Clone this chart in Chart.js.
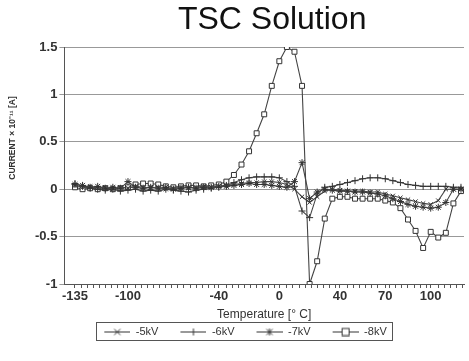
<!DOCTYPE html>
<html>
<head>
<meta charset="utf-8">
<script src="https://cdn.jsdelivr.net/npm/chart.js@4.4.1/dist/chart.umd.min.js"></script>
<style>
  html, body { margin: 0; padding: 0; background: #fff; }
  #wrap { width: 469px; height: 361px; position: relative; }
</style>
</head>
<body>
<div id="wrap"><canvas id="tscChart" width="469" height="361"></canvas></div>
<script>
// temperature steps [deg C]
const temps = [
  -135, -130, -125, -120, -115, -110, -105, -100, -95, -90, -85, -80, -75, -70, -65, -60, -55, -50, -45, -40, -35,
  -30, -25, -20, -15, -10, -5, 0, 5, 10, 15,
  20, 25, 30, 35, 40, 45, 50, 55, 60, 65, 70, 75, 80, 85, 90, 95, 100, 105, 110, 115, 120,
];

// current x 1e-11 A
const kv5 = [
  0.04, 0.02, 0.03, 0.01, 0.02, 0.0, 0.02, 0.01, 0.03, 0.02, 0.01, 0.02, 0.0, 0.01, 0.02, 0.01, 0.02, 0.03, 0.02, 0.03, 0.04,
  0.05, 0.06, 0.07, 0.07, 0.08, 0.08, 0.07, 0.05, 0.0, -0.08,
  -0.14, -0.08, -0.02, 0.0, -0.01, -0.02, -0.02, -0.02, -0.03, -0.03, -0.05, -0.07, -0.09, -0.11, -0.13, -0.15, -0.16, -0.12, 0.0, 0.0, 0.0,
];
const kv6 = [
  0.06, 0.03, 0.01, 0.0, -0.01, 0.0, -0.02, -0.01, 0.0, -0.02, -0.01, -0.02, 0.0, -0.01, -0.02, -0.03, -0.01, 0.0, 0.01, 0.02, 0.04,
  0.07, 0.1, 0.12, 0.13, 0.13, 0.13, 0.12, 0.08, 0.03, -0.23,
  -0.3, -0.05, 0.02, 0.03, 0.05, 0.07, 0.09, 0.11, 0.12, 0.12, 0.11, 0.09, 0.07, 0.05, 0.04, 0.03, 0.03, 0.03, 0.03, 0.02, 0.02,
];
const kv7 = [
  0.05, 0.04, 0.02, 0.03, 0.01, 0.02, 0.01, 0.08, 0.02, 0.01, 0.02, 0.01, 0.02, 0.0, 0.01, 0.02, 0.01, 0.02, 0.02, 0.03, 0.03,
  0.04, 0.05, 0.06, 0.05, 0.05, 0.04, 0.03, 0.02, 0.08, 0.28,
  -0.1, -0.03, 0.0, -0.01, -0.02, -0.02, -0.03, -0.03, -0.04, -0.05, -0.07, -0.1, -0.13, -0.16, -0.18, -0.19, -0.2, -0.19, -0.14, 0.0, 0.0,
];
const kv8 = [
  0.02, 0.0, 0.01, 0.0, 0.01, 0.0, 0.01, 0.02, 0.05, 0.06, 0.06, 0.05, 0.03, 0.02, 0.03, 0.04, 0.04, 0.03, 0.04, 0.05, 0.08,
  0.15, 0.26, 0.4, 0.59, 0.79, 1.09, 1.35, 1.5, 1.45, 1.09,
  -1.0, -0.76, -0.31, -0.1, -0.08, -0.08, -0.1, -0.1, -0.1, -0.1, -0.12, -0.14, -0.2, -0.32, -0.44, -0.62, -0.45, -0.51, -0.46, -0.15, -0.02,
];

const seriesNames = ['-5kV', '-6kV', '-7kV', '-8kV'];
const xTickLabels = [-135, -100, -40, 0, 40, 70, 100];

const ink = '#333';
const font = "'Liberation Sans', Arial, sans-serif";
const iconGap = 18; // blank space left of each legend icon, keeps items apart

function legendIcon(style) {
  const c = document.createElement('canvas');
  c.width = 26 + iconGap;
  c.height = 10;
  const g = c.getContext('2d');
  g.strokeStyle = ink;
  g.lineWidth = 1;
  g.beginPath();
  g.moveTo(iconGap, 5.5);
  g.lineTo(iconGap + 26, 5.5);
  g.stroke();
  const x = iconGap + 13, y = 5.5, r = 3;
  g.beginPath();
  if (style === 'crossRot' || style === 'star') {
    g.moveTo(x - r, y - r); g.lineTo(x + r, y + r);
    g.moveTo(x - r, y + r); g.lineTo(x + r, y - r);
  }
  if (style === 'cross' || style === 'star') {
    g.moveTo(x, y - r - 0.5); g.lineTo(x, y + r + 0.5);
    g.moveTo(x - r, y); g.lineTo(x + r, y);
  }
  g.stroke();
  if (style === 'rect') {
    g.fillStyle = '#fff';
    g.fillRect(x - 3.5, y - 3.5, 7, 7);
    g.strokeRect(x - 3.5, y - 3.5, 7, 7);
  }
  return c;
}

function makeSeries(label, values, style, radius) {
  return {
    label,
    data: values.map((v, i) => ({ x: temps[i], y: v })),
    borderColor: '#444',
    borderWidth: 1.1,
    pointStyle: style,
    pointRadius: radius,
    pointBorderColor: ink,
    pointBorderWidth: 1,
    pointBackgroundColor: '#fff',
    tension: 0,
    legendIcon: legendIcon(style),
  };
}

const chartTexts = {
  id: 'chartTexts',
  afterDraw(chart) {
    const { ctx, chartArea } = chart;
    ctx.save();
    ctx.font = `32px ${font}`;
    ctx.fillStyle = '#111';
    ctx.textAlign = 'center';
    ctx.textBaseline = 'alphabetic';
    ctx.fillText('TSC Solution', (chartArea.left + chartArea.right) / 2 + 8, 29);

    ctx.translate(13, 138);
    ctx.rotate(-Math.PI / 2);
    ctx.font = `bold 8.5px ${font}`;
    ctx.fillStyle = ink;
    ctx.textBaseline = 'middle';
    ctx.fillText('CURRENT × 10⁻¹¹ [A]', 0, 0);
    ctx.restore();
  },
};

const legendFrame = {
  id: 'legendFrame',
  afterDraw(chart) {
    const boxes = chart.legend && chart.legend.legendHitBoxes;
    if (!boxes || !boxes.length) return;
    const left = Math.min(...boxes.map(b => b.left)) + iconGap - 8;
    const right = Math.max(...boxes.map(b => b.left + b.width)) + 6;
    const top = boxes[0].top - 4;
    const bottom = boxes[0].top + boxes[0].height + 3;
    const ctx = chart.ctx;
    ctx.save();
    ctx.strokeStyle = '#555';
    ctx.lineWidth = 1;
    ctx.strokeRect(Math.round(left) + 0.5, Math.round(top) + 0.5, Math.round(right - left), Math.round(bottom - top));
    ctx.restore();
  },
};

new Chart(document.getElementById('tscChart'), {
  type: 'line',
  data: {
    datasets: [
      makeSeries(seriesNames[0], kv5, 'crossRot', 3),
      makeSeries(seriesNames[1], kv6, 'cross', 3.5),
      makeSeries(seriesNames[2], kv7, 'star', 3.5),
      makeSeries(seriesNames[3], kv8, 'rect', 3.5),
    ],
  },
  options: {
    responsive: false,
    animation: false,
    layout: { padding: { top: 47, left: 4, right: 0, bottom: 14 } },
    plugins: {
      title: { display: false },
      tooltip: { enabled: false },
      legend: {
        position: 'bottom',
        labels: {
          color: ink,
          font: { family: font, size: 11 },
          usePointStyle: true,
          pointStyleWidth: 26 + iconGap,
          padding: 4,
          generateLabels: (chart) => chart.data.datasets.map((ds, i) => ({
            text: ds.label,
            pointStyle: ds.legendIcon,
            fillStyle: '#fff',
            strokeStyle: ink,
            lineWidth: 0,
            hidden: false,
            datasetIndex: i,
            fontColor: ink,
          })),
        },
      },
    },
    scales: {
      x: {
        type: 'linear',
        min: -142,
        max: 122,
        afterBuildTicks: (axis) => {
          const vals = new Set(xTickLabels);
          for (let v = -135; v <= 122; v += 4) {
            if (xTickLabels.every(t => Math.abs(t - v) > 1.5)) vals.add(v);
          }
          axis.ticks = [...vals].sort((a, b) => a - b).map(v => ({ value: v }));
        },
        ticks: {
          autoSkip: false,
          maxRotation: 0,
          color: ink,
          padding: 1,
          font: { family: font, size: 13, weight: 'bold' },
          callback: (v) => (xTickLabels.includes(v) ? String(v) : ''),
        },
        grid: { drawOnChartArea: false, tickLength: 4, color: '#555' },
        border: { color: '#555', width: 1 },
        title: {
          display: true,
          text: 'Temperature [° C]',
          color: ink,
          font: { family: font, size: 12 },
          padding: { top: 2, bottom: 0 },
        },
      },
      y: {
        min: -1,
        max: 1.5,
        // room for the rotated axis caption drawn by chartTexts
        afterFit: (scale) => { scale.width += 29; },
        ticks: {
          stepSize: 0.5,
          color: ink,
          padding: 2,
          font: { family: font, size: 13, weight: 'bold' },
          callback: (v) => String(v),
        },
        grid: { color: '#999', lineWidth: 1, tickLength: 5 },
        border: { color: '#555', width: 1 },
      },
    },
  },
  plugins: [chartTexts, legendFrame],
});
</script>
</body>
</html>
